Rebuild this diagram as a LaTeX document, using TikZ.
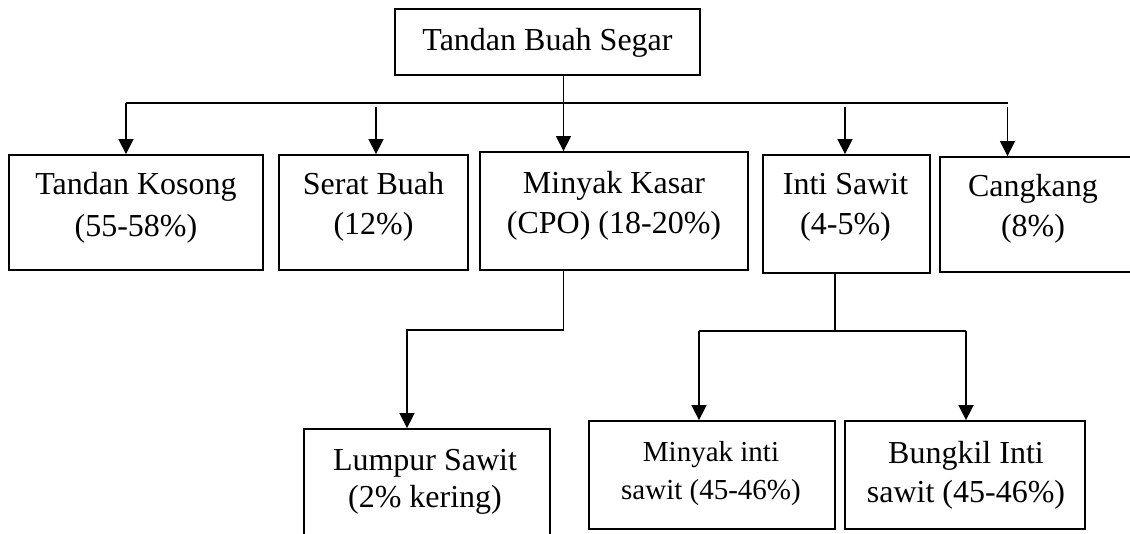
\documentclass[tikz,border=0pt]{standalone}
\usepackage{fontspec}
\setmainfont{Liberation Serif}
\usetikzlibrary{arrows.meta}
\begin{document}
\begin{tikzpicture}[x=1pt,y=-1pt,
  box/.style={draw,line width=1.8pt,inner sep=0pt},
  lbl/.style={align=center,inner sep=0pt,font=\fontsize{32}{40}\selectfont},
  lbls/.style={align=center,inner sep=0pt,font=\fontsize{29}{38}\selectfont},
  ln/.style={line width=1.5pt},
  arr/.style={line width=1.5pt,-{Triangle[length=15pt,width=15pt]}}]
\useasboundingbox (0,0) rectangle (1130,534);
\clip (0,0) rectangle (1130,534);
% top
\node[box,minimum width=305,minimum height=66] (top) at (547.5,42) {};
\node[lbl] (top-t) at (547.5,42.5) {Tandan Buah Segar};
% row
\node[box,minimum width=254,minimum height=115] (tk) at (136,212.5) {};
\node[lbl,font=\fontsize{32}{42}\selectfont] (tk-t) at (136,208) {Tandan Kosong\\(55-58\%)};
\node[box,minimum width=189,minimum height=115] (sb) at (373.5,212.5) {};
\node[lbl] (sb-t) at (373.5,207) {Serat Buah\\(12\%)};
\node[box,minimum width=268,minimum height=118] (mk) at (614,211) {};
\node[lbl] (mk-t) at (614,206) {Minyak Kasar\\(CPO) (18-20\%)};
\node[box,minimum width=167,minimum height=118] (is) at (846.5,214) {};
\node[lbl] (is-t) at (845.5,207) {Inti Sawit\\(4-5\%)};
\node[box,minimum width=200,minimum height=115] (cg) at (1040,214.5) {};
\node[lbl] (cg-t) at (1033,209) {Cangkang\\(8\%)};
% bottom
\node[box,minimum width=246,minimum height=116] (ls) at (427,487) {};
\node[lbl,font=\fontsize{32}{37}\selectfont] (ls-t) at (425,482) {Lumpur Sawit\\(2\% kering)};
\node[box,minimum width=246,minimum height=108] (mi) at (712,475) {};
\node[lbls] (mi-t) at (711,474) {Minyak inti\\sawit (45-46\%)};
\node[box,minimum width=240,minimum height=108] (bi) at (965,475) {};
\node[lbl,font=\fontsize{32}{39}\selectfont] (bi-t) at (966,475.5) {Bungkil Inti\\sawit (45-46\%)};
% connectors
\coordinate (cx) at (563.5,103);
\coordinate (busL) at (126,103);
\coordinate (busR) at (1007.5,103);
\coordinate (bSB) at (376,107);
\coordinate (bIS) at (845,107);
\coordinate (bCG) at (1007.5,107);
\draw[ln] (top.south -| cx) -- (cx);
\draw[ln] (busL) -- (busR);
\draw[arr] (cx) -- (mk.north -| cx);
\draw[arr] (busL) -- (tk.north -| busL);
\draw[arr] (bSB) -- (sb.north -| bSB);
\draw[arr] (bIS) -- (is.north -| bIS);
\draw[arr] (bCG) -- (cg.north -| bCG);
\coordinate (mkj) at (407,330);
\draw[arr] (mk.south -| cx) |- (mkj) -- (ls.north -| mkj);
\coordinate (isj) at (835,331);
\coordinate (ijL) at (699,331);
\coordinate (ijR) at (966,331);
\draw[ln] (is.south -| isj) -- (isj);
\draw[ln] (ijL) -- (ijR);
\draw[arr] (ijL) -- (mi.north -| ijL);
\draw[arr] (ijR) -- (bi.north -| ijR);
\end{tikzpicture}
\end{document}
